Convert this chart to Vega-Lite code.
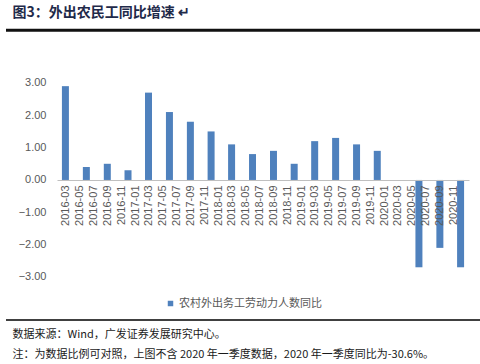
{
  "$schema": "https://vega.github.io/schema/vega-lite/v6.json",
  "padding": {"left": 4, "top": 6, "right": 0, "bottom": 0},
  "background": "white",
  "config": {"view": {"stroke": null}},
  "title": {
    "text": "图3：外出农民工同比增速 ↵",
    "anchor": "start",
    "dx": 8,
    "offset": 6,
    "font": "Noto Sans CJK SC",
    "fontSize": 14,
    "fontWeight": "bold",
    "color": "#1f2a4a"
  },
  "vconcat": [
    {
      "width": 476,
      "height": 294,
      "title": {
        "text": ["数据来源：Wind，广发证券发展研究中心。", "注：为数据比例可对照，上图不含 2020 年一季度数据，2020 年一季度同比为-30.6%。"],
        "orient": "bottom",
        "anchor": "start",
        "dx": 8,
        "offset": 8,
        "font": "Noto Sans CJK SC",
        "fontSize": 11,
        "fontWeight": "normal",
        "lineHeight": 20,
        "color": "#1a1a1a"
      },
      "data": {
        "values": [
          {"date": "2016-03-01", "value": 2.9},
          {"date": "2016-06-01", "value": 0.4},
          {"date": "2016-09-01", "value": 0.5},
          {"date": "2016-12-01", "value": 0.3},
          {"date": "2017-03-01", "value": 2.7},
          {"date": "2017-06-01", "value": 2.1},
          {"date": "2017-09-01", "value": 1.8},
          {"date": "2017-12-01", "value": 1.5},
          {"date": "2018-03-01", "value": 1.1},
          {"date": "2018-06-01", "value": 0.8},
          {"date": "2018-09-01", "value": 0.9},
          {"date": "2018-12-01", "value": 0.5},
          {"date": "2019-03-01", "value": 1.2},
          {"date": "2019-06-01", "value": 1.3},
          {"date": "2019-09-01", "value": 1.1},
          {"date": "2019-12-01", "value": 0.9},
          {"date": "2020-06-01", "value": -2.7},
          {"date": "2020-09-01", "value": -2.1},
          {"date": "2020-12-01", "value": -2.7}
        ]
      },
      "layer": [
        {
          "mark": {"type": "bar", "size": 7, "color": "#4F81BD"},
          "encoding": {
            "x": {
              "field": "date",
              "type": "temporal",
              "scale": {
                "type": "utc",
                "domain": [
                  {"year": 2016, "month": 2, "date": 15, "utc": true},
                  {"year": 2020, "month": 12, "date": 16, "utc": true}
                ],
                "range": [51, 463]
              },
              "axis": {
                "values": [
                  {"year": 2016, "month": 3, "date": 1, "utc": true},
                  {"year": 2016, "month": 5, "date": 1, "utc": true},
                  {"year": 2016, "month": 7, "date": 1, "utc": true},
                  {"year": 2016, "month": 9, "date": 1, "utc": true},
                  {"year": 2016, "month": 11, "date": 1, "utc": true},
                  {"year": 2017, "month": 1, "date": 1, "utc": true},
                  {"year": 2017, "month": 3, "date": 1, "utc": true},
                  {"year": 2017, "month": 5, "date": 1, "utc": true},
                  {"year": 2017, "month": 7, "date": 1, "utc": true},
                  {"year": 2017, "month": 9, "date": 1, "utc": true},
                  {"year": 2017, "month": 11, "date": 1, "utc": true},
                  {"year": 2018, "month": 1, "date": 1, "utc": true},
                  {"year": 2018, "month": 3, "date": 1, "utc": true},
                  {"year": 2018, "month": 5, "date": 1, "utc": true},
                  {"year": 2018, "month": 7, "date": 1, "utc": true},
                  {"year": 2018, "month": 9, "date": 1, "utc": true},
                  {"year": 2018, "month": 11, "date": 1, "utc": true},
                  {"year": 2019, "month": 1, "date": 1, "utc": true},
                  {"year": 2019, "month": 3, "date": 1, "utc": true},
                  {"year": 2019, "month": 5, "date": 1, "utc": true},
                  {"year": 2019, "month": 7, "date": 1, "utc": true},
                  {"year": 2019, "month": 9, "date": 1, "utc": true},
                  {"year": 2019, "month": 11, "date": 1, "utc": true},
                  {"year": 2020, "month": 1, "date": 1, "utc": true},
                  {"year": 2020, "month": 3, "date": 1, "utc": true},
                  {"year": 2020, "month": 5, "date": 1, "utc": true},
                  {"year": 2020, "month": 7, "date": 1, "utc": true},
                  {"year": 2020, "month": 9, "date": 1, "utc": true},
                  {"year": 2020, "month": 11, "date": 1, "utc": true}
                ],
                "format": "%Y-%m",
                "labelAngle": 270,
                "labelFont": "Liberation Sans",
                "labelFontSize": 11,
                "labelColor": "#595959",
                "labelPadding": 5,
                "labelOverlap": false,
                "labelFlush": false,
                "labelBound": false,
                "offset": -140,
                "domainColor": "#BFBFBF",
                "domainWidth": 1,
                "ticks": false,
                "tickSize": 0,
                "grid": false,
                "title": null,
                "zindex": 1
              }
            },
            "y": {
              "field": "value",
              "type": "quantitative",
              "scale": {"domain": [-4.33, 4.76], "nice": false, "zero": true},
              "axis": {
                "values": [-3, -2, -1, 0, 1, 2, 3],
                "format": ".2f",
                "offset": -51,
                "domain": false,
                "ticks": false,
                "tickSize": 0,
                "labelPadding": 11,
                "labelFont": "Liberation Sans",
                "labelFontSize": 11,
                "labelColor": "#595959",
                "grid": false,
                "title": null
              }
            },
            "color": {
              "datum": "农村外出务工劳动力人数同比",
              "scale": {"range": ["#4F81BD"]},
              "legend": {
                "title": null,
                "orient": "none",
                "legendX": 159,
                "legendY": 272,
                "padding": 0,
                "symbolType": "square",
                "symbolSize": 30,
                "symbolStrokeWidth": 0,
                "labelOffset": 3,
                "labelFont": "Noto Sans CJK SC",
                "labelFontSize": 11,
                "labelColor": "#595959"
              }
            }
          }
        },
        {
          "data": {"values": [{}]},
          "mark": {"type": "rule", "strokeWidth": 3, "color": "#111111"},
          "encoding": {"y": {"datum": 4.63}}
        },
        {
          "data": {"values": [{}]},
          "mark": {"type": "rule", "strokeWidth": 1.5, "color": "black"},
          "encoding": {"y": {"datum": -4.33}}
        }
      ]
    }
  ]
}
